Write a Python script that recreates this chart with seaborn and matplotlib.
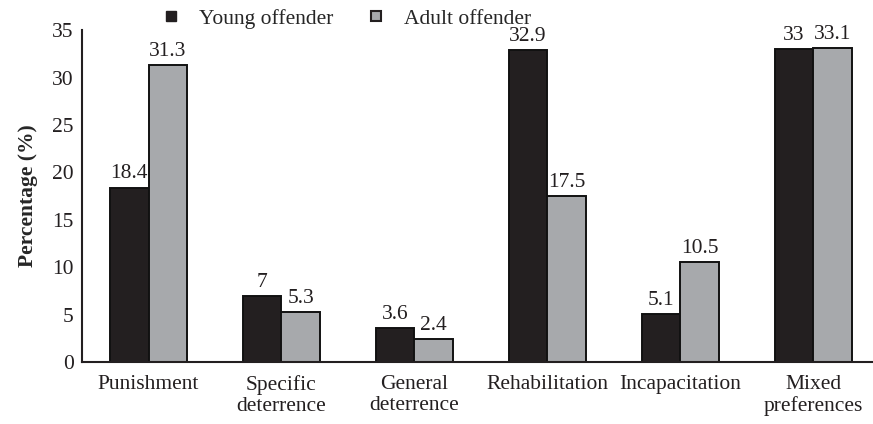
import matplotlib
matplotlib.use("Agg")
import pandas as pd
import matplotlib.pyplot as plt
import seaborn as sns
from matplotlib.lines import Line2D

categories = ['Punishment', 'Specific\ndeterrence', 'General\ndeterrence',
              'Rehabilitation', 'Incapacitation', 'Mixed\npreferences']
young = [18.4, 7, 3.6, 32.9, 5.1, 33]
adult = [31.3, 5.3, 2.4, 17.5, 10.5, 33.1]
young_labels = ['18.4', '7', '3.6', '32.9', '5.1', '33']
adult_labels = ['31.3', '5.3', '2.4', '17.5', '10.5', '33.1']

df = pd.DataFrame({
    'Category': categories * 2,
    'Group': ['Young offender'] * 6 + ['Adult offender'] * 6,
    'Value': young + adult,
})

sns.set_theme(style="white")
plt.rcParams['font.family'] = ['Liberation Serif', 'DejaVu Serif']
fs = 15.5

fig = plt.figure(figsize=(8.73, 4.24), dpi=100)
ax = fig.add_axes([0.094, 0.146, 0.906, 0.783])

palette = {'Young offender': '#231f20', 'Adult offender': '#a7a9ac'}
sns.barplot(data=df, x='Category', y='Value', hue='Group', palette=palette,
            width=0.58, edgecolor='#111111', linewidth=1.4, saturation=1,
            legend=False, ax=ax)

for cont, labs in zip(ax.containers, [young_labels, adult_labels]):
    ax.bar_label(cont, labels=labs, padding=3, fontsize=fs, color='#231f20')

ax.set_ylim(0, 35)
ax.set_xlim(-0.5, 5.45)
ax.set_yticks(range(0, 36, 5))
ax.set_xlabel('')
ax.set_ylabel('Percentage (%)', fontsize=fs, fontweight='bold', labelpad=10)
ax.tick_params(axis='both', labelsize=fs, colors='#231f20', length=0, pad=6)
ax.tick_params(axis='x', pad=9)
for s in ['top', 'right']:
    ax.spines[s].set_visible(False)
for s in ['left', 'bottom']:
    ax.spines[s].set_color('#231f20')
    ax.spines[s].set_linewidth(1.5)

handles = [
    Line2D([], [], marker='s', linestyle='', markersize=7,
           markerfacecolor='#231f20', markeredgecolor='#231f20'),
    Line2D([], [], marker='s', linestyle='', markersize=7,
           markerfacecolor='#a7a9ac', markeredgecolor='#231f20', markeredgewidth=1.5),
]
fig.legend(handles, ['Young offender', 'Adult offender'], loc='upper center',
           bbox_to_anchor=(0.39, 1.025), ncol=2, frameon=False, fontsize=fs,
           handletextpad=0.3, columnspacing=1.0)

fig.savefig('out.png', dpi=100)
